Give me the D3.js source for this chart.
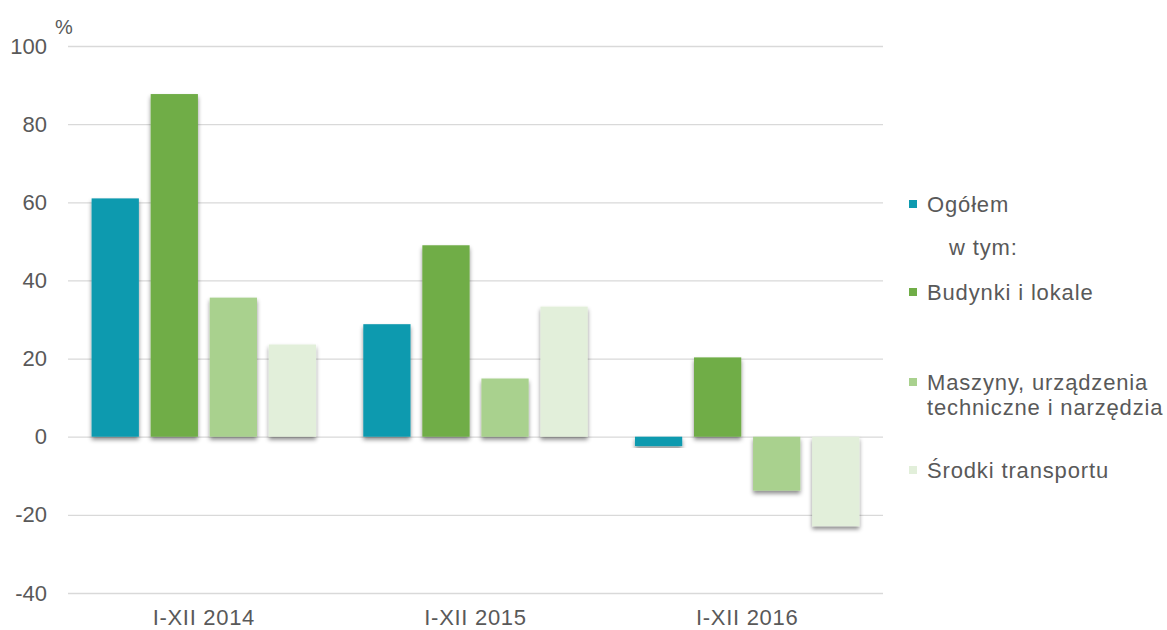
<!DOCTYPE html>
<html><head><meta charset="utf-8">
<script src="https://cdn.jsdelivr.net/npm/d3@7"></script>
<style>body{margin:0;background:#fff;} text{font-family:"Liberation Sans",Arial,sans-serif;fill:#595959;}</style>
</head><body>
<svg id="chart" width="1167" height="630"></svg>
<script>
const categories = ["I-XII 2014", "I-XII 2015", "I-XII 2016"];
const seriesNames = ["Ogółem", "Budynki i lokale", "Maszyny, urządzenia techniczne i narzędzia", "Środki transportu"];
const ogolem = [61.0, 28.8, -2.4];
const budynki = [87.7, 49.0, 20.3];
const maszyny = [35.6, 14.9, -13.8];
const srodki = [23.6, 33.3, -22.9];
const yTicks = [-40, -20, 0, 20, 40, 60, 80, 100];
const colors = ["#0E9AAF", "#70AD47", "#A9D18E", "#E2EFDA"];

(function(){
const seriesValues = [ogolem, budynki, maszyny, srodki];
const svg = d3.select("#chart");
const pL = 68, pR = 883, pT = 46, pB = 593;
const y = d3.scaleLinear().domain([-40, 100]).range([pB, pT]);
const x0 = d3.scaleBand().domain(categories).range([pL, pR]).paddingInner(0).paddingOuter(0);
const x1 = d3.scaleBand().domain(d3.range(4)).range([0, x0.bandwidth()]).paddingInner(0.2).paddingOuter(0.4);

const defs = svg.append("defs");
const f = defs.append("filter").attr("id","sh").attr("x","-20%").attr("y","-20%").attr("width","140%").attr("height","140%");
f.append("feDropShadow").attr("dx",0).attr("dy",3).attr("stdDeviation",2).attr("flood-color","#000").attr("flood-opacity",0.45);

const yAxis = d3.axisLeft(y).tickValues(yTicks).tickSize(-(pR-pL)).tickPadding(21).tickFormat(d => String(d));
const gy = svg.append("g").attr("transform",`translate(${pL},0)`).call(yAxis);
gy.select(".domain").remove();
gy.selectAll(".tick line").attr("stroke","#d9d9d9").attr("stroke-width",1.3);
gy.selectAll(".tick text").attr("font-size",22).style("fill","#595959").attr("font-family","Liberation Sans, Arial, sans-serif");

svg.append("text").attr("x",55).attr("y",34).attr("font-size",20).text("%");

const groups = svg.append("g").selectAll("g").data(categories).join("g")
  .attr("transform", d => `translate(${x0(d)},0)`);
groups.selectAll("rect").data((c,ci) => seriesValues.map((s,si) => ({si, v: s[ci]}))).join("rect")
  .attr("x", d => x1(d.si))
  .attr("width", x1.bandwidth())
  .attr("y", d => y(Math.max(0,d.v)))
  .attr("height", d => Math.abs(y(d.v) - y(0)))
  .attr("fill", d => colors[d.si])
  .attr("filter","url(#sh)");

const xAxis = d3.axisBottom(x0).tickSize(0).tickPadding(16);
const gx = svg.append("g").attr("transform",`translate(0,${pB})`).call(xAxis);
gx.select(".domain").remove();
gx.selectAll(".tick text").attr("font-size",22).attr("letter-spacing","0.7px").style("fill","#595959").attr("font-family","Liberation Sans, Arial, sans-serif");

const legend = svg.append("g");
const legItems = [
  {si:0, lines:["Ogółem"], y:204},
  {si:1, lines:["Budynki i lokale"], y:292},
  {si:2, lines:["Maszyny, urządzenia","techniczne i narzędzia"], y:382},
  {si:3, lines:["Środki transportu"], y:470}
];
legItems.forEach(it => {
  legend.append("rect").attr("x",909).attr("y",it.y-4).attr("width",8).attr("height",8).attr("fill",colors[it.si]);
  const t = legend.append("text").attr("x",927).attr("y",it.y).attr("font-size",22).attr("letter-spacing","0.85px");
  it.lines.forEach((l,i) => t.append("tspan").attr("x",927).attr("dy", i===0 ? "0.35em" : "1.15em").text(l));
});
legend.append("text").attr("x",949).attr("y",247).attr("dy","0.35em").attr("font-size",22).attr("letter-spacing","0.85px").text("w tym:");
})();
</script>
</body></html>
